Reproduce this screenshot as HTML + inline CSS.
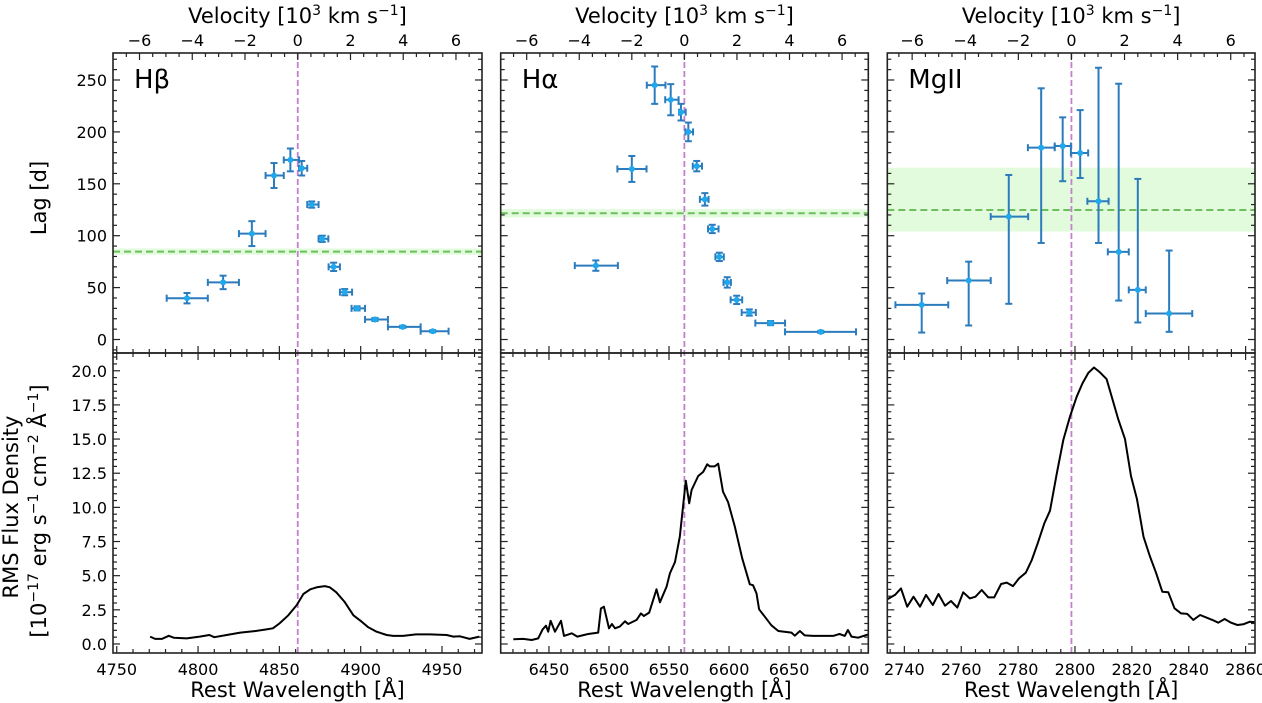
<!DOCTYPE html>
<html><head><meta charset="utf-8">
<style>
html,body{margin:0;padding:0;background:#fff;}
svg{display:block;font-family:"DejaVu Sans","Liberation Sans",sans-serif;}
</style></head>
<body>
<svg id="fig" width="1262" height="703" viewBox="0 0 1262 703" xmlns="http://www.w3.org/2000/svg">
<rect width="1262" height="703" fill="#fff"/>
<text transform="translate(46,198) rotate(-90)" text-anchor="middle" font-size="21">Lag [d]</text>
<text transform="translate(18,507) rotate(-90)" text-anchor="middle" font-size="21">RMS Flux Density</text>
<text transform="translate(46,511) rotate(-90)" text-anchor="middle" font-size="21">[10<tspan dy="-8" font-size="14">−17</tspan><tspan dy="8"> erg s</tspan><tspan dy="-8" font-size="14">−1</tspan><tspan dy="8"> cm</tspan><tspan dy="-8" font-size="14">−2</tspan><tspan dy="8"> Å</tspan><tspan dy="-8" font-size="14">−1</tspan><tspan dy="8">]</tspan></text>
</svg>
<script>
// ---------------- DATA ----------------
const panelNames = ["Hβ","Hα","MgII"];
const lineCenters = [4861.3, 6562.8, 2798.75];
const wlRanges = [[4747.7,4974.6],[6409.8,6716.0],[2734.0,2863.3]];
const wlMajorTicks = [[4750,4800,4850,4900,4950],[6450,6500,6550,6600,6650,6700],[2740,2760,2780,2800,2820,2840,2860]];
const wlMinorStep = [10,10,5];
const velTicks = [-6,-4,-2,0,2,4,6];
const lagTicks = [0,50,100,150,200,250];
const fluxTicks = [0,2.5,5,7.5,10,12.5,15,17.5,20];

// Hβ lags (velocity in 10^3 km/s)
const hbVel   = [-4.2,-2.83,-1.74,-0.9,-0.28,0.15,0.53,0.93,1.36,1.78,2.25,2.93,3.98,5.12];
const hbVelLo = [-4.97,-3.41,-2.23,-1.22,-0.53,0.05,0.36,0.79,1.17,1.6,2.04,2.55,3.42,4.66];
const hbVelHi = [-3.41,-2.23,-1.22,-0.53,0.05,0.36,0.79,1.16,1.6,2.06,2.55,3.42,4.66,5.72];
const hbLag   = [39.8,55,102,158,173,165,130,97,70,45.6,30,19.3,12.2,8];
const hbLagLo = [34.8,48.5,90,146,162,158,127,94,66,42.6,28,17.8,11.2,7];
const hbLagHi = [44.8,61.5,114,170,184,172,133,100,74,48.6,32,20.8,13.2,9];
// Hα lags
const haVel   = [-3.37,-2.0,-1.13,-0.52,-0.13,0.15,0.47,0.78,1.06,1.33,1.63,1.99,2.47,3.28,5.19];
const haVelLo = [-4.17,-2.55,-1.43,-0.73,-0.2,0.04,0.32,0.59,0.9,1.18,1.49,1.76,2.18,2.7,3.83];
const haVelHi = [-2.53,-1.44,-0.72,-0.22,0.05,0.33,0.67,0.92,1.3,1.5,1.77,2.2,2.72,3.83,6.53];
const haLag   = [71.2,164.3,245,231,219,200,167,135,106.5,79.6,55,38.2,26,15.8,7.4];
const haLagLo = [66.2,151.8,227,216,211,191,162,129,102.5,75.6,50,34.2,23,13.8,6.4];
const haLagHi = [76.2,176.8,263,246,227,209,172,141,110.5,83.6,60,42.2,29,17.8,8.4];
// MgII lags
const mgVel   = [-5.64,-3.87,-2.36,-1.14,-0.33,0.33,1.02,1.78,2.5,3.68];
const mgVelLo = [-6.63,-4.68,-3.04,-1.64,-0.63,-0.02,0.6,1.37,2.16,2.8];
const mgVelHi = [-4.64,-3.04,-1.63,-0.63,-0.02,0.63,1.4,2.16,2.8,4.55];
const mgLag   = [33.4,56.8,118.4,184.8,186.4,179.7,133.2,84.4,47.8,25];
const mgLagLo = [6.7,13.5,34.4,93,152.5,155.6,93,37.5,16.4,7.4];
const mgLagHi = [44.3,75,158.5,242,214,221,261.8,246.4,154.7,85.7];

const meanLag = [84.7,121.6,124.8];
const meanLagLo = [81.7,117.6,104];
const meanLagHi = [87.7,125.6,165.5];

// RMS spectra
const hbWl = [4770.5,4773.6,4777.7,4782,4785,4793,4801,4807,4810,4817.6,4826,4834,4842,4846,4850,4855.5,4860.7,4864.8,4869,4873,4878,4881,4885,4890,4895.5,4900.6,4904.7,4909.8,4916,4920,4926,4934,4942.6,4952.9,4957,4961,4967,4973];
const hbFlux = [0.54,0.37,0.37,0.6,0.46,0.41,0.54,0.66,0.5,0.66,0.83,0.93,1.07,1.15,1.5,2.1,2.85,3.66,4.0,4.15,4.24,4.15,3.78,3.1,2.1,1.63,1.22,0.9,0.66,0.59,0.59,0.7,0.7,0.66,0.54,0.56,0.37,0.54];
const haWl = [6420.3,6428.6,6435.6,6441,6444.7,6447.5,6449.4,6451.4,6455,6460,6462.5,6469,6473.6,6482.7,6491,6493.3,6495.8,6500,6502.4,6505,6509,6513.3,6516,6523,6526.6,6529,6533.5,6539.6,6542.4,6548,6550.7,6555,6559,6564,6566.8,6568.8,6574.3,6578.5,6581.8,6584,6588,6591,6595,6599.1,6604.8,6611,6617.3,6620,6622.9,6625,6629.8,6635.3,6641,6647.8,6652,6654.8,6659,6663,6670,6678.4,6686.7,6692,6696.4,6699,6702,6707.5,6715.8];
const haFlux = [0.34,0.37,0.29,0.41,1.07,1.34,0.9,1.7,0.9,1.7,0.59,0.78,0.54,0.73,0.83,2.6,2.73,1.15,1.46,1.15,1.27,1.66,1.46,1.76,2.24,2.05,2.3,4.0,3.05,4.2,5.17,6.0,7.85,11.95,10.3,11.27,12.3,12.6,13.15,13.0,13.0,13.2,11.15,10.4,8.6,6.27,4.37,4.3,3.7,2.54,2.0,1.37,0.95,0.88,0.83,0.61,0.95,0.63,0.59,0.59,0.59,0.73,0.59,1.02,0.54,0.46,0.7];
const mgWl = [2734,2736.7,2738.8,2741,2743.2,2745.5,2747.6,2750,2752,2754.3,2756.4,2758.6,2760.7,2763,2765,2767.2,2769.5,2771.6,2774,2776,2778.2,2780.3,2782.7,2784.8,2786.9,2789.2,2791.2,2793.6,2795.9,2798.2,2800.6,2802.6,2804.7,2806.7,2808.8,2811.1,2813.1,2815.2,2817.6,2819.7,2821.8,2824.1,2826.3,2828.5,2830.7,2832.8,2835,2837.3,2839.5,2841.6,2844,2846,2848.3,2850.4,2852.6,2854.9,2857.1,2859.2,2861.5,2863.3];
const mgFlux = [3.27,3.59,4.07,2.73,3.46,2.73,3.59,2.85,3.66,2.8,3.15,2.66,3.78,3.34,3.46,3.95,3.41,3.41,4.39,4.49,4.24,4.8,5.22,6.15,7.37,8.83,9.76,12.49,14.93,16.63,18.1,19.07,19.85,20.24,19.88,19.39,17.98,16.46,15.0,12.29,10.59,7.85,6.44,5.22,3.83,3.78,2.61,2.24,2.2,1.76,2.12,1.95,1.76,1.56,1.83,1.56,1.39,1.44,1.63,1.59];

// ---------------- LAYOUT ----------------
const panelLeft = [113,500.7,887.3];
const panelRight = [482,868.3,1255];
const topY0 = 53, midY = 353, botY1 = 653;
const lagRange = [-13, 276];
const fluxRange = [-0.66, 21.3];
const C = 299.792458;

const svg = document.getElementById('fig');
const NS = 'http://www.w3.org/2000/svg';
function mk(tag, attrs, parent){
  const e = document.createElementNS(NS, tag);
  for (const k in attrs) e.setAttribute(k, attrs[k]);
  (parent||svg).appendChild(e);
  return e;
}
const lagSets = [
  [hbVel,hbVelLo,hbVelHi,hbLag,hbLagLo,hbLagHi],
  [haVel,haVelLo,haVelHi,haLag,haLagLo,haLagHi],
  [mgVel,mgVelLo,mgVelHi,mgLag,mgLagLo,mgLagHi]];
const specSets = [[hbWl,hbFlux],[haWl,haFlux],[mgWl,mgFlux]];
const slug = ['hbeta','halpha','mgii'];

for (let p=0;p<3;p++){
  const L=panelLeft[p], R=panelRight[p], lc=lineCenters[p];
  const [w0,w1]=wlRanges[p];
  const xw = w => L + (w-w0)/(w1-w0)*(R-L);
  const xv = v => xw(lc*(1+v/C));
  const yl = v => midY - (v-lagRange[0])/(lagRange[1]-lagRange[0])*(midY-topY0);
  const yf = v => botY1 - (v-fluxRange[0])/(fluxRange[1]-fluxRange[0])*(botY1-midY);

  const g = mk('g',{});
  
  

  const band = mk('rect',{x:L,y:yl(meanLagHi[p]),width:R-L,height:yl(meanLagLo[p])-yl(meanLagHi[p]),fill:'#c8f7c0','fill-opacity':0.55},g);
  
  
  const ml = mk('line',{x1:L,x2:R,y1:yl(meanLag[p]),y2:yl(meanLag[p]),stroke:'#6cbf5c','stroke-width':2,'stroke-dasharray':'7,4'},g);
  
  

  const vc = mk('line',{x1:xw(lc),x2:xw(lc),y1:topY0,y2:botY1,stroke:'#c67fd0','stroke-width':1.8,'stroke-dasharray':'6,3'},g);
  
  

  const [V,VL,VH,LG,LL,LH]=lagSets[p];
  for (let i=0;i<V.length;i++){
    const pg = mk('g',{stroke:'#2b7bbd','stroke-width':2},g);
    
    
    const cx=xv(V[i]), cy=yl(LG[i]);
    const xa=xv(VL[i]), xb=xv(VH[i]), ya=yl(LL[i]), yb=yl(LH[i]);
    mk('line',{x1:xa,x2:xb,y1:cy,y2:cy},pg);
    mk('line',{x1:cx,x2:cx,y1:ya,y2:yb},pg);
    mk('line',{x1:xa,x2:xa,y1:cy-3.5,y2:cy+3.5},pg);
    mk('line',{x1:xb,x2:xb,y1:cy-3.5,y2:cy+3.5},pg);
    mk('line',{x1:cx-3.5,x2:cx+3.5,y1:ya,y2:ya},pg);
    mk('line',{x1:cx-3.5,x2:cx+3.5,y1:yb,y2:yb},pg);
    mk('circle',{cx:cx,cy:cy,r:3,fill:'#1fa8ec',stroke:'none'},pg);
  }

  const [SW,SF]=specSets[p];
  let d='';
  for (let i=0;i<SW.length;i++) d += (i?'L':'M')+xw(SW[i]).toFixed(1)+','+yf(SF[i]).toFixed(1);
  const sp = mk('path',{d:d,fill:'none',stroke:'#000','stroke-width':2,'stroke-linejoin':'round'},g);
  
  

  const tk = mk('g',{stroke:'#222','stroke-width':1.2},g);
  
  
  mk('rect',{x:L,y:topY0,width:R-L,height:midY-topY0,fill:'none',stroke:'#222','stroke-width':1.6},g);
  mk('rect',{x:L,y:midY,width:R-L,height:botY1-midY,fill:'none',stroke:'#222','stroke-width':1.6},g);

  for (let w=Math.ceil(w0/wlMinorStep[p])*wlMinorStep[p]; w<=w1; w+=wlMinorStep[p]){
    const x=xw(w); const maj = wlMajorTicks[p].includes(Math.round(w));
    const len = maj?7:4;
    mk('line',{x1:x,x2:x,y1:midY-len,y2:midY+len},tk);
    mk('line',{x1:x,x2:x,y1:botY1,y2:botY1-len},tk);
  }
  wlMajorTicks[p].forEach(w=>{
    const t=mk('text',{x:xw(w),y:botY1+22,'text-anchor':'middle','font-size':16,fill:'#000'});
    t.textContent=w;
    
    
  });
  for (let v=-7; v<=7; v+=0.5){
    const x=xv(v); if (x<L||x>R) continue;
    const maj = Math.abs(v%2)<1e-9;
    mk('line',{x1:x,x2:x,y1:topY0,y2:topY0+(maj?7:4)},tk);
  }
  velTicks.forEach(v=>{
    const t=mk('text',{x:xv(v),y:topY0-7,'text-anchor':'middle','font-size':16,fill:'#000'});
    t.textContent=(v<0?'−':'')+Math.abs(v);
    
    
  });
  for (let v=-10; v<=270; v+=10){
    const y=yl(v); const maj=v%50===0; const len=maj?7:4;
    mk('line',{x1:L,x2:L+len,y1:y,y2:y},tk);
    mk('line',{x1:R,x2:R-len,y1:y,y2:y},tk);
  }
  for (let k=0; k<=21*2; k++){
    const v=k*0.5; const y=yf(v); if (y<midY) continue;
    const maj=k%5===0; const len=maj?7:4;
    mk('line',{x1:L,x2:L+len,y1:y,y2:y},tk);
    mk('line',{x1:R,x2:R-len,y1:y,y2:y},tk);
  }
  if (p===0){
    lagTicks.forEach(v=>{
      const t=mk('text',{x:L-6,y:yl(v)+6,'text-anchor':'end','font-size':16,fill:'#000'});
      t.textContent=v;
      
      
    });
    fluxTicks.forEach(v=>{
      const t=mk('text',{x:L-6,y:yf(v)+6,'text-anchor':'end','font-size':16,fill:'#000'});
      t.textContent=v.toFixed(1);
      
      
    });
  }
  const cx=(L+R)/2;
  const vt=mk('text',{x:cx,y:23,'text-anchor':'middle','font-size':21,fill:'#000'});
  vt.innerHTML='Velocity [10<tspan dy="-8" font-size="14">3</tspan><tspan dy="8"> km s</tspan><tspan dy="-8" font-size="14">−1</tspan><tspan dy="8">]</tspan>';
  
  
  const xt=mk('text',{x:cx,y:697,'text-anchor':'middle','font-size':21,fill:'#000'});
  xt.textContent='Rest Wavelength [Å]';
  
  
  const pn=mk('text',{x:L+21,y:88,'font-size':26,fill:'#000'});
  pn.textContent=panelNames[p];
  
  
}
</script>
</body></html>
